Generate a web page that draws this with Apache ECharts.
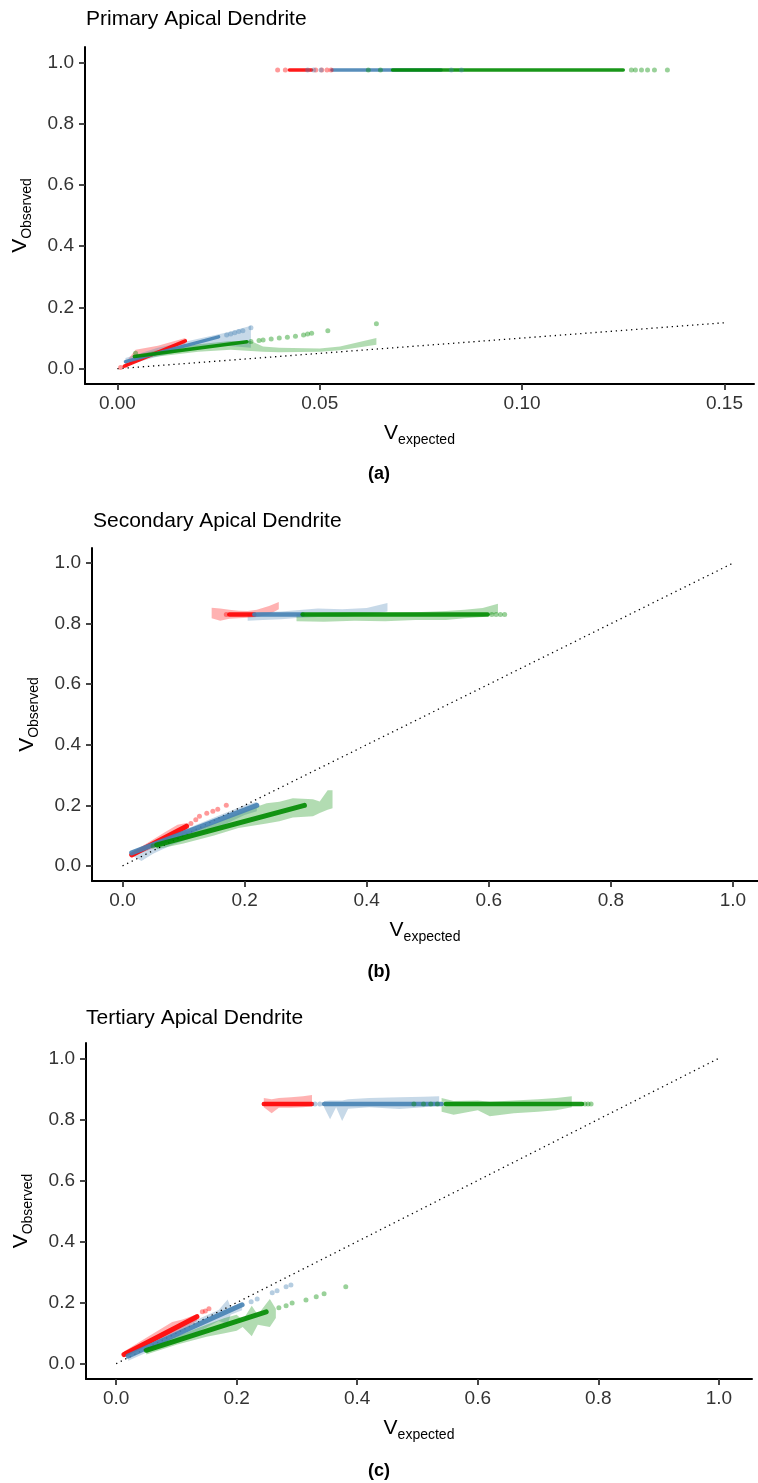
<!DOCTYPE html>
<html><head><meta charset="utf-8">
<script src="https://cdn.jsdelivr.net/npm/echarts@6/dist/echarts.min.js"></script>
<style>html,body{margin:0;padding:0;background:#fff}#c{width:758px;height:1483px}</style>
</head><body><div id="c"></div>
<script>
// ---------- tick labels ----------
const xTicksA = [0, 0.05, 0.10, 0.15];
const xTickLabelsA = ['0.00', '0.05', '0.10', '0.15'];
const xTicksBC = [0, 0.2, 0.4, 0.6, 0.8, 1.0];
const xTickLabelsBC = ['0.0', '0.2', '0.4', '0.6', '0.8', '1.0'];
const yTicks = [0, 0.2, 0.4, 0.6, 0.8, 1.0];
const yTickLabels = ['0.0', '0.2', '0.4', '0.6', '0.8', '1.0'];
const panelTitles = ['Primary Apical Dendrite', 'Secondary Apical Dendrite', 'Tertiary Apical Dendrite'];
const panelCaptions = ['(a)', '(b)', '(c)'];

// ---------- Panel A ----------
const aIdentity = [[0, 0], [0.15, 0.15]];
const aRedTopDense = [[0.0425, 0.975], [0.048, 0.975]];
const aRedTopDots = [[0.0396, 0.975], [0.0415, 0.975], [0.049, 0.975], [0.0505, 0.975], [0.0518, 0.975], [0.0528, 0.975]];
const aBlueTopDense = [[0.053, 0.975], [0.08, 0.975]];
const aBlueTopDots = [[0.047, 0.975], [0.0485, 0.975], [0.0503, 0.975], [0.0825, 0.975], [0.085, 0.975]];
const aGreenTopDense = [[0.068, 0.975], [0.125, 0.975]];
const aGreenTopDots = [[0.062, 0.975], [0.065, 0.975], [0.127, 0.975], [0.128, 0.975], [0.1295, 0.975], [0.131, 0.975], [0.1327, 0.975], [0.1359, 0.975]];
const aRedLowDense = [[0.0017, 0.008], [0.0168, 0.091]];
const aRedLowDots = [[0.0008, 0.004]];
const aRedRibbon = [[0.002, 0.0, 0.02], [0.0045, 0.03, 0.062], [0.01, 0.045, 0.075], [0.0168, 0.078, 0.1]];
const aBlueLowDense = [[0.002, 0.023], [0.025, 0.104]];
const aBlueLowDots = [[0.027, 0.11], [0.028, 0.113], [0.029, 0.117], [0.030, 0.121], [0.031, 0.124], [0.033, 0.134]];
const aBlueRibbon = [[0.002, 0.01, 0.035], [0.01, 0.04, 0.068], [0.02, 0.07, 0.098], [0.027, 0.075, 0.118], [0.033, 0.068, 0.14]];
const aGreenLowDense = [[0.0042, 0.04], [0.032, 0.088]];
const aGreenLowDots = [[0.0045, 0.05], [0.033, 0.089], [0.035, 0.092], [0.036, 0.094], [0.038, 0.097], [0.040, 0.1], [0.042, 0.103], [0.044, 0.106], [0.046, 0.11], [0.047, 0.113], [0.048, 0.116], [0.052, 0.124], [0.064, 0.147]];
const aGreenRibbon = [[0.0045, 0.03, 0.045], [0.01, 0.04, 0.06], [0.02, 0.055, 0.08], [0.028, 0.062, 0.09], [0.033, 0.058, 0.09], [0.036, 0.055, 0.072], [0.04, 0.054, 0.068], [0.05, 0.055, 0.066], [0.055, 0.06, 0.072], [0.064, 0.078, 0.1]];

// ---------- Panel B ----------
const bIdentity = [[0, 0], [1, 1]];
const bRedTopDense = [[0.175, 0.83], [0.216, 0.83]];
const bRedTopDots = [[0.17, 0.83]];
const bRedTopRibbon = [[0.146, 0.818, 0.853], [0.16, 0.81, 0.85], [0.175, 0.816, 0.846], [0.19, 0.818, 0.843], [0.205, 0.82, 0.842], [0.22, 0.822, 0.846], [0.24, 0.83, 0.858], [0.256, 0.848, 0.872]];
const bBlueTopDense = [[0.216, 0.83], [0.295, 0.83]];
const bBlueTopRibbon = [[0.205, 0.81, 0.832], [0.23, 0.812, 0.838], [0.26, 0.815, 0.84], [0.29, 0.82, 0.845], [0.32, 0.822, 0.85], [0.36, 0.822, 0.848], [0.40, 0.828, 0.852], [0.434, 0.84, 0.868]];
const bGreenTopDense = [[0.295, 0.83], [0.598, 0.83]];
const bGreenTopDots = [[0.605, 0.83], [0.612, 0.83], [0.619, 0.83], [0.626, 0.83]];
const bGreenTopRibbon = [[0.285, 0.808, 0.832], [0.33, 0.806, 0.836], [0.38, 0.81, 0.838], [0.43, 0.808, 0.836], [0.48, 0.812, 0.838], [0.53, 0.812, 0.842], [0.56, 0.818, 0.846], [0.59, 0.822, 0.852], [0.615, 0.835, 0.866]];
const bRedLowDense = [[0.015, 0.036], [0.105, 0.131]];
const bRedLowDots = [[0.112, 0.14], [0.12, 0.152], [0.126, 0.164], [0.138, 0.174], [0.148, 0.18], [0.156, 0.187], [0.17, 0.2]];
const bRedLowRibbon = [[0.015, 0.03, 0.045], [0.04, 0.05, 0.075], [0.07, 0.075, 0.112], [0.09, 0.09, 0.136], [0.105, 0.11, 0.142]];
const bBlueLowDense = [[0.015, 0.043], [0.22, 0.2]];
const bBlueLowRibbon = [[0.015, 0.035, 0.05], [0.031, 0.016, 0.06], [0.05, 0.04, 0.075], [0.08, 0.068, 0.1], [0.12, 0.098, 0.135], [0.16, 0.13, 0.168], [0.2, 0.168, 0.2], [0.22, 0.18, 0.212]];
const bGreenLowDense = [[0.056, 0.069], [0.298, 0.2]];
const bGreenLowDots = [[0.05, 0.066]];
const bGreenLowRibbon = [[0.056, 0.055, 0.08], [0.1, 0.074, 0.11], [0.15, 0.1, 0.14], [0.19, 0.125, 0.175], [0.236, 0.14, 0.207], [0.257, 0.147, 0.212], [0.279, 0.16, 0.223], [0.312, 0.164, 0.22], [0.323, 0.175, 0.213], [0.336, 0.185, 0.25], [0.344, 0.19, 0.25]];

// ---------- Panel C ----------
const cIdentity = [[0, 0], [1, 1]];
const cRedTopDense = [[0.245, 0.85], [0.325, 0.85]];
const cRedTopRibbon = [[0.245, 0.84, 0.87], [0.258, 0.82, 0.866], [0.27, 0.838, 0.87], [0.29, 0.838, 0.872], [0.31, 0.84, 0.876], [0.325, 0.842, 0.88]];
const cBlueTopDense = [[0.345, 0.85], [0.54, 0.85]];
const cBlueTopDots = [[0.33, 0.85], [0.338, 0.85]];
const cBlueTopRibbon = [[0.345, 0.84, 0.86], [0.355, 0.8, 0.862], [0.365, 0.84, 0.862], [0.375, 0.795, 0.862], [0.385, 0.835, 0.866], [0.42, 0.84, 0.87], [0.47, 0.834, 0.872], [0.51, 0.84, 0.874], [0.536, 0.845, 0.876]];
const cGreenTopDense = [[0.547, 0.85], [0.773, 0.85]];
const cGreenTopDots = [[0.494, 0.85], [0.51, 0.85], [0.522, 0.85], [0.533, 0.85], [0.778, 0.85], [0.783, 0.85], [0.788, 0.85]];
const cGreenTopRibbon = [[0.54, 0.825, 0.87], [0.56, 0.815, 0.86], [0.6, 0.83, 0.862], [0.62, 0.81, 0.858], [0.66, 0.82, 0.862], [0.7, 0.825, 0.866], [0.73, 0.83, 0.87], [0.756, 0.84, 0.876]];
const cRedLowDense = [[0.013, 0.03], [0.134, 0.154]];
const cRedLowDots = [[0.143, 0.17], [0.148, 0.173], [0.154, 0.18]];
const cRedLowRibbon = [[0.013, 0.02, 0.04], [0.05, 0.055, 0.085], [0.093, 0.09, 0.137], [0.11, 0.11, 0.145], [0.134, 0.14, 0.162]];
const cBlueLowDense = [[0.02, 0.025], [0.209, 0.193]];
const cBlueLowDots = [[0.224, 0.203], [0.234, 0.212], [0.259, 0.232], [0.267, 0.239], [0.282, 0.252], [0.29, 0.258]];
const cBlueLowRibbon = [[0.02, 0.01, 0.04], [0.06, 0.045, 0.072], [0.1, 0.078, 0.112], [0.14, 0.108, 0.15], [0.17, 0.14, 0.176], [0.185, 0.13, 0.21], [0.19, 0.16, 0.186], [0.209, 0.175, 0.2]];
const cGreenLowDense = [[0.05, 0.044], [0.249, 0.17]];
const cGreenLowDots = [[0.27, 0.183], [0.282, 0.19], [0.292, 0.199], [0.315, 0.209], [0.332, 0.219], [0.345, 0.229], [0.381, 0.252]];
const cGreenLowRibbon = [[0.05, 0.03, 0.055], [0.1, 0.062, 0.09], [0.15, 0.088, 0.128], [0.18, 0.1, 0.15], [0.2, 0.108, 0.16], [0.21, 0.12, 0.142], [0.225, 0.09, 0.19], [0.235, 0.128, 0.16], [0.255, 0.12, 0.212], [0.265, 0.15, 0.18]];

// ---------- styling ----------
const FONT = 'Liberation Sans';
const RED = '#FF0000', BLUE = '#4682B4', GREEN = '#008B00';
const RED_F = 'rgba(255,0,0,0.3)', BLUE_F = 'rgba(70,130,180,0.3)', GREEN_F = 'rgba(0,139,0,0.3)';

function ribbon(gi, rows, fill) {
  return {
    type: 'custom', xAxisIndex: gi, yAxisIndex: gi, data: rows, encode: { x: 0, y: [1, 2] }, silent: true, z: 1,
    renderItem: function (params, api) {
      if (params.dataIndex !== 0) return null;
      const up = rows.map(r => api.coord([r[0], r[2]]));
      const lo = rows.map(r => api.coord([r[0], r[1]])).reverse();
      return { type: 'polygon', shape: { points: up.concat(lo) }, style: { fill: fill } };
    }
  };
}
function dense(gi, seg, color, w) {
  return { type: 'line', xAxisIndex: gi, yAxisIndex: gi, data: seg, symbol: 'none', silent: true, z: 3,
    lineStyle: { color: color, width: w, opacity: 0.9, cap: 'round' } };
}
function dots(gi, pts, color) {
  return { type: 'scatter', xAxisIndex: gi, yAxisIndex: gi, data: pts, symbolSize: 5, silent: true, z: 4,
    itemStyle: { color: color, opacity: 0.4 } };
}
function identity(gi, seg) {
  return { type: 'line', xAxisIndex: gi, yAxisIndex: gi, data: seg, symbol: 'none', silent: true, z: 2,
    lineStyle: { color: '#000', width: 1.3, type: [1.3, 3.8] } };
}
function pick(ticks, labels) {
  return v => { const i = ticks.findIndex(t => Math.abs(t - v) < 1e-9); return i >= 0 ? labels[i] : ''; };
}
const nameRich = {
  v: { fontSize: 21, fontFamily: FONT, color: '#000' },
  s: { fontSize: 14, fontFamily: FONT, color: '#000', padding: [13, 0, 0, 0] }
};
function xAxisCfg(gi, min, max, ticks, labels) {
  return {
    type: 'value', gridIndex: gi, min: min, max: max,
    axisLine: { show: true, onZero: false, lineStyle: { color: '#000', width: 2 } },
    axisTick: { show: true, length: 6, customValues: ticks, lineStyle: { color: '#333', width: 1.8 } },
    axisLabel: { color: '#333', fontSize: 19, fontFamily: FONT, margin: 10, customValues: ticks, formatter: pick(ticks, labels) },
    splitLine: { show: false },
    name: '{v|V}{s|expected}', nameLocation: 'middle', nameGap: 36, nameTextStyle: { rich: nameRich }
  };
}
function yAxisCfg(gi) {
  return {
    type: 'value', gridIndex: gi, min: -0.05, max: 1.05,
    axisLine: { show: true, onZero: false, lineStyle: { color: '#000', width: 2 } },
    axisTick: { show: true, length: 6, customValues: yTicks, lineStyle: { color: '#333', width: 1.8 } },
    axisLabel: { color: '#333', fontSize: 19, fontFamily: FONT, margin: 11, customValues: yTicks, formatter: pick(yTicks, yTickLabels) },
    splitLine: { show: false },
    name: '{v|V}{s|Observed}', nameLocation: 'middle', nameRotate: 90, nameGap: 51, nameTextStyle: { rich: nameRich }
  };
}

const series = [
  ribbon(0, aRedRibbon, RED_F), ribbon(0, aBlueRibbon, BLUE_F), ribbon(0, aGreenRibbon, GREEN_F),
  identity(0, aIdentity),
  dense(0, aRedTopDense, RED, 3.5), dots(0, aRedTopDots, RED),
  dense(0, aBlueTopDense, BLUE, 3.5), dots(0, aBlueTopDots, BLUE),
  dense(0, aGreenTopDense, GREEN, 3.5), dots(0, aGreenTopDots, GREEN),
  dense(0, aRedLowDense, RED, 3.5), dots(0, aRedLowDots, RED),
  dense(0, aBlueLowDense, BLUE, 3.5), dots(0, aBlueLowDots, BLUE),
  dense(0, aGreenLowDense, GREEN, 3.5), dots(0, aGreenLowDots, GREEN),

  ribbon(1, bRedTopRibbon, RED_F), ribbon(1, bBlueTopRibbon, BLUE_F), ribbon(1, bGreenTopRibbon, GREEN_F),
  ribbon(1, bRedLowRibbon, RED_F), ribbon(1, bBlueLowRibbon, BLUE_F), ribbon(1, bGreenLowRibbon, GREEN_F),
  identity(1, bIdentity),
  dense(1, bRedTopDense, RED, 4.5), dots(1, bRedTopDots, RED),
  dense(1, bBlueTopDense, BLUE, 4.5),
  dense(1, bGreenTopDense, GREEN, 4.5), dots(1, bGreenTopDots, GREEN),
  dense(1, bRedLowDense, RED, 5), dots(1, bRedLowDots, RED),
  dense(1, bBlueLowDense, BLUE, 5),
  dense(1, bGreenLowDense, GREEN, 5), dots(1, bGreenLowDots, GREEN),

  ribbon(2, cRedTopRibbon, RED_F), ribbon(2, cBlueTopRibbon, BLUE_F), ribbon(2, cGreenTopRibbon, GREEN_F),
  ribbon(2, cRedLowRibbon, RED_F), ribbon(2, cBlueLowRibbon, BLUE_F), ribbon(2, cGreenLowRibbon, GREEN_F),
  identity(2, cIdentity),
  dense(2, cRedTopDense, RED, 4.5),
  dense(2, cBlueTopDense, BLUE, 4.5), dots(2, cBlueTopDots, BLUE),
  dense(2, cGreenTopDense, GREEN, 4.5), dots(2, cGreenTopDots, GREEN),
  dense(2, cRedLowDense, RED, 5), dots(2, cRedLowDots, RED),
  dense(2, cBlueLowDense, BLUE, 5), dots(2, cBlueLowDots, BLUE),
  dense(2, cGreenLowDense, GREEN, 5), dots(2, cGreenLowDots, GREEN)
];

const titleTops = [9, 511, 1008];
const titleLefts = [86, 93, 86];
const captionTops = [465, 963, 1462];

const option = {
  backgroundColor: '#fff',
  animation: false,
  title: panelTitles.map((t, i) => ({ text: t, left: titleLefts[i], top: titleTops[i], padding: 0,
    textStyle: { fontSize: 21, fontWeight: 'normal', color: '#000', fontFamily: FONT } })),
  graphic: panelCaptions.map((t, i) => ({ type: 'text', left: 'center', top: captionTops[i],
    style: { text: t, font: 'bold 18px "Liberation Sans"', fill: '#000' } })),
  grid: [
    { left: 85, top: 47, width: 669, height: 337 },
    { left: 92, top: 548, width: 666, height: 333 },
    { left: 86, top: 1043, width: 666, height: 336 }
  ],
  xAxis: [
    xAxisCfg(0, -0.008, 0.1573, xTicksA, xTickLabelsA),
    xAxisCfg(1, -0.05, 1.041, xTicksBC, xTickLabelsBC),
    xAxisCfg(2, -0.05, 1.055, xTicksBC, xTickLabelsBC)
  ],
  yAxis: [yAxisCfg(0), yAxisCfg(1), yAxisCfg(2)],
  series: series
};
const chart = echarts.init(document.getElementById('c'), null, { renderer: 'canvas' });
chart.setOption(option);
</script></body></html>
